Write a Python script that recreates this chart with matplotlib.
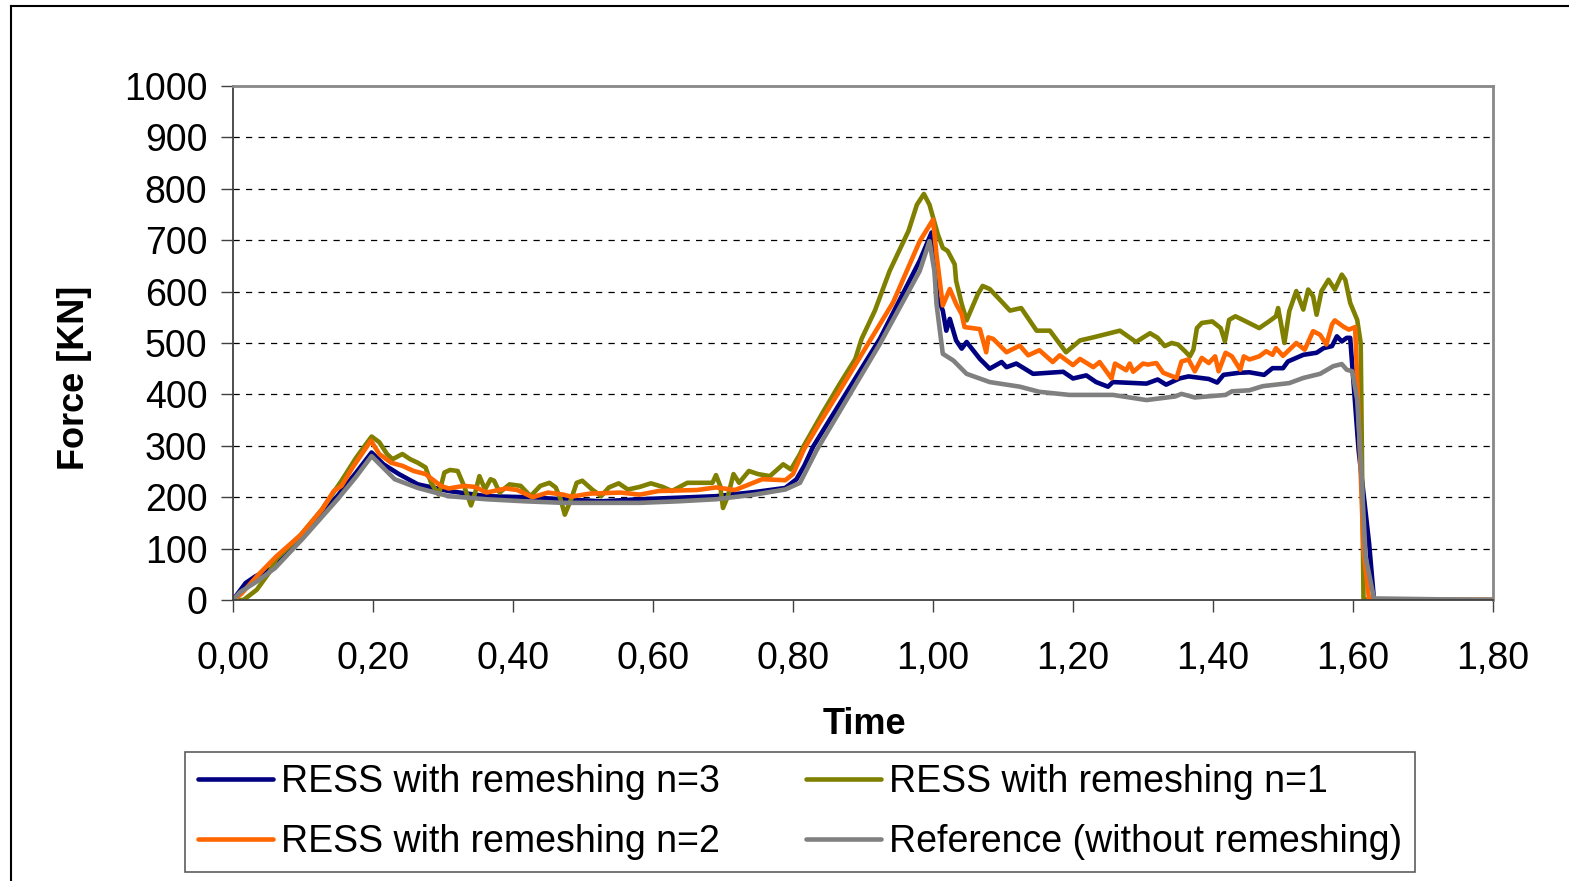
import numpy as np
import matplotlib
matplotlib.use("Agg")
import matplotlib.pyplot as plt
from matplotlib.lines import Line2D

plt.rcParams['font.family'] = ['Liberation Sans', 'DejaVu Sans']

# (time, force) pairs
ress_n3 = [(0.000, 0), (0.018, 33), (0.032, 46), (0.056, 62), (0.078, 91), (0.100, 124),
           (0.127, 170), (0.149, 202), (0.176, 248), (0.198, 287), (0.215, 264), (0.237, 245),
           (0.264, 225), (0.308, 212), (0.362, 202), (0.417, 200), (0.472, 196), (0.526, 192),
           (0.581, 196), (0.636, 199), (0.690, 202), (0.745, 210), (0.789, 218), (0.805, 235),
           (0.816, 261), (0.829, 299), (0.924, 508), (0.981, 660), (0.998, 715), (1.006, 590),
           (1.014, 563), (1.019, 524), (1.024, 547), (1.033, 505), (1.041, 489), (1.048, 502),
           (1.067, 469), (1.081, 450), (1.098, 463), (1.105, 453), (1.119, 460), (1.143, 440),
           (1.186, 444), (1.200, 431), (1.219, 437), (1.233, 424), (1.250, 415), (1.257, 424),
           (1.305, 421), (1.321, 429), (1.333, 419), (1.352, 431), (1.365, 435), (1.394, 430),
           (1.406, 423), (1.415, 438), (1.437, 442), (1.452, 443), (1.473, 438), (1.485, 451),
           (1.500, 451), (1.507, 464), (1.529, 477), (1.548, 481), (1.558, 490), (1.570, 494),
           (1.577, 513), (1.584, 503), (1.591, 510), (1.596, 510), (1.599, 455), (1.608, 292),
           (1.623, 110), (1.630, 0), (1.800, 0)]

ress_n1 = [(0.000, 0), (0.015, 0), (0.034, 20), (0.051, 52), (0.062, 80), (0.097, 127),
           (0.127, 176), (0.155, 232), (0.176, 277), (0.198, 318), (0.209, 307), (0.220, 284),
           (0.228, 274), (0.242, 284), (0.253, 274), (0.264, 267), (0.275, 258), (0.283, 228),
           (0.294, 205), (0.302, 248), (0.310, 253), (0.321, 251), (0.330, 222), (0.340, 184),
           (0.346, 209), (0.352, 241), (0.360, 215), (0.368, 235), (0.373, 232), (0.381, 209),
           (0.395, 225), (0.411, 222), (0.425, 202), (0.439, 222), (0.452, 228), (0.461, 219),
           (0.468, 196), (0.474, 166), (0.483, 196), (0.491, 228), (0.499, 232), (0.513, 215),
           (0.526, 202), (0.537, 219), (0.551, 227), (0.564, 215), (0.581, 220), (0.597, 227),
           (0.614, 220), (0.627, 212), (0.649, 228), (0.685, 228), (0.690, 243), (0.696, 222),
           (0.700, 179), (0.707, 202), (0.715, 245), (0.723, 228), (0.737, 251), (0.750, 245),
           (0.767, 241), (0.786, 264), (0.797, 254), (0.810, 284), (0.815, 299), (0.843, 366),
           (0.867, 421), (0.889, 469), (0.898, 508), (0.917, 563), (0.938, 640), (0.965, 718),
           (0.977, 769), (0.987, 790), (0.995, 769), (1.007, 711), (1.014, 685), (1.021, 679),
           (1.031, 653), (1.033, 621), (1.041, 576), (1.048, 544), (1.064, 595), (1.071, 611),
           (1.081, 605), (1.095, 585), (1.110, 563), (1.126, 568), (1.148, 524), (1.167, 524),
           (1.190, 482), (1.210, 505), (1.229, 511), (1.267, 524), (1.290, 502), (1.310, 519),
           (1.321, 510), (1.331, 494), (1.341, 500), (1.350, 497), (1.360, 484), (1.367, 474),
           (1.372, 487), (1.377, 529), (1.384, 539), (1.399, 542), (1.411, 529), (1.417, 503),
           (1.423, 545), (1.432, 552), (1.447, 542), (1.466, 529), (1.480, 542), (1.490, 552),
           (1.493, 568), (1.497, 539), (1.502, 500), (1.509, 562), (1.519, 601), (1.529, 565),
           (1.536, 604), (1.543, 591), (1.548, 555), (1.555, 601), (1.565, 623), (1.574, 604),
           (1.584, 633), (1.589, 623), (1.596, 578), (1.606, 545), (1.611, 500), (1.615, 3),
           (1.620, 0), (1.800, 0)]

ress_n2 = [(0.000, 0), (0.012, 12), (0.034, 46), (0.062, 85), (0.097, 127), (0.127, 176),
           (0.144, 212), (0.155, 222), (0.171, 258), (0.197, 310), (0.209, 284), (0.226, 267),
           (0.242, 261), (0.258, 251), (0.275, 245), (0.297, 222), (0.308, 217), (0.330, 222),
           (0.346, 220), (0.362, 209), (0.390, 217), (0.406, 214), (0.428, 200), (0.450, 209),
           (0.472, 205), (0.483, 201), (0.510, 207), (0.554, 209), (0.581, 205), (0.608, 212),
           (0.663, 214), (0.690, 219), (0.717, 214), (0.734, 223), (0.756, 235), (0.789, 233),
           (0.800, 245), (0.816, 294), (0.837, 342), (0.867, 408), (0.943, 579), (0.981, 698),
           (1.000, 740), (1.005, 672), (1.014, 573), (1.024, 605), (1.033, 576), (1.041, 556),
           (1.045, 531), (1.067, 527), (1.076, 482), (1.079, 511), (1.086, 508), (1.105, 482),
           (1.124, 495), (1.136, 476), (1.152, 486), (1.171, 463), (1.181, 476), (1.200, 457),
           (1.210, 469), (1.229, 453), (1.238, 463), (1.255, 431), (1.260, 460), (1.276, 447),
           (1.281, 460), (1.286, 444), (1.300, 460), (1.307, 458), (1.319, 461), (1.329, 442),
           (1.348, 432), (1.355, 464), (1.365, 468), (1.374, 445), (1.384, 471), (1.394, 461),
           (1.403, 474), (1.408, 445), (1.418, 481), (1.427, 474), (1.439, 448), (1.444, 474),
           (1.452, 468), (1.466, 474), (1.476, 484), (1.485, 477), (1.490, 490), (1.500, 475),
           (1.519, 500), (1.531, 487), (1.543, 523), (1.553, 516), (1.562, 497), (1.570, 536),
           (1.574, 544), (1.586, 532), (1.594, 526), (1.603, 531), (1.608, 357), (1.615, 97),
           (1.623, 0), (1.800, 0)]

reference = [(0.000, 0), (0.010, 15), (0.034, 36), (0.060, 62), (0.100, 120), (0.150, 197),
             (0.176, 240), (0.198, 280), (0.231, 235), (0.264, 218), (0.308, 202), (0.362, 196),
             (0.417, 192), (0.472, 189), (0.526, 189), (0.581, 189), (0.636, 192), (0.690, 196),
             (0.745, 205), (0.789, 215), (0.810, 228), (0.834, 292), (0.924, 498), (0.981, 640),
             (0.995, 698), (1.002, 640), (1.005, 576), (1.014, 479), (1.029, 466), (1.048, 440),
             (1.081, 424), (1.124, 415), (1.152, 405), (1.195, 399), (1.257, 399), (1.305, 389),
             (1.346, 396), (1.355, 401), (1.374, 394), (1.418, 399), (1.427, 406), (1.452, 408),
             (1.471, 416), (1.509, 422), (1.529, 432), (1.553, 440), (1.572, 455), (1.584, 459),
             (1.591, 448), (1.599, 445), (1.606, 390), (1.611, 273), (1.618, 84), (1.630, 3),
             (1.800, 0)]

x_ticks = [0.0, 0.2, 0.4, 0.6, 0.8, 1.0, 1.2, 1.4, 1.6, 1.8]
y_ticks = list(range(0, 1001, 100))

W, H = 1569, 881
fig = plt.figure(figsize=(W / 100, H / 100), dpi=100)
ax = fig.add_axes([233 / W, 1 - 600 / H, (1493 - 233) / W, (600 - 86) / H])

# outer chart frame (only left/top edges fall inside the image)
fig.add_artist(Line2D([11 / W, 11 / W], [0, 1 - 6 / H], color='black', lw=1.5,
                      transform=fig.transFigure))
fig.add_artist(Line2D([11 / W, 1], [1 - 6 / H, 1 - 6 / H], color='black', lw=1.5,
                      transform=fig.transFigure))

series = [
    (ress_n3, '#000080', 'RESS with remeshing n=3'),
    (ress_n1, '#808000', 'RESS with remeshing n=1'),
    (ress_n2, '#FF6600', 'RESS with remeshing n=2'),
    (reference, '#808080', 'Reference (without remeshing)'),
]
lines = {}
for data, color, label in series:
    arr = np.array(data, dtype=float)
    ln, = ax.plot(arr[:, 0], arr[:, 1], color=color, lw=3.3, label=label,
                  solid_joinstyle='round', solid_capstyle='round')
    lines[label] = ln

ax.set_xlim(0, 1.8)
ax.set_ylim(0, 1000)
ax.set_xticks(x_ticks)
ax.set_xticklabels([f"{v:.2f}".replace('.', ',') for v in x_ticks])
ax.set_yticks(y_ticks)

for y in y_ticks[1:-1]:
    ax.axhline(y, color='black', lw=0.9, ls=(0, (5, 5)), zorder=0)

for side in ['left', 'bottom']:
    ax.spines[side].set_color('#404040')
    ax.spines[side].set_linewidth(1.3)
for side in ['top', 'right']:
    ax.spines[side].set_color('#888888')
    ax.spines[side].set_linewidth(2)

ax.tick_params(axis='both', direction='out', length=8.5, width=1, color='#404040',
               labelsize=27)
ax.tick_params(axis='y', pad=10)
ax.tick_params(axis='x', pad=21)

fig.text(864 / W, 1 - 724 / H, 'Time', ha='center', va='center', fontsize=26,
         fontweight='bold')
fig.text(75 / W, 1 - 378 / H, 'Force [KN]', ha='center', va='center', fontsize=26,
         fontweight='bold', rotation=90)

order = ['RESS with remeshing n=3', 'RESS with remeshing n=2',
         'RESS with remeshing n=1', 'Reference (without remeshing)']
leg = fig.legend([lines[k] for k in order], order, ncol=2, loc='center',
                 bbox_to_anchor=(800 / W, 1 - 812 / H), fontsize=27, frameon=True,
                 fancybox=False, edgecolor='#333333', handlelength=2.0,
                 handletextpad=0.22, columnspacing=2.3, labelspacing=0.62,
                 borderpad=0.33)
leg.get_frame().set_linewidth(1.2)

fig.savefig('out.png', dpi=100)
